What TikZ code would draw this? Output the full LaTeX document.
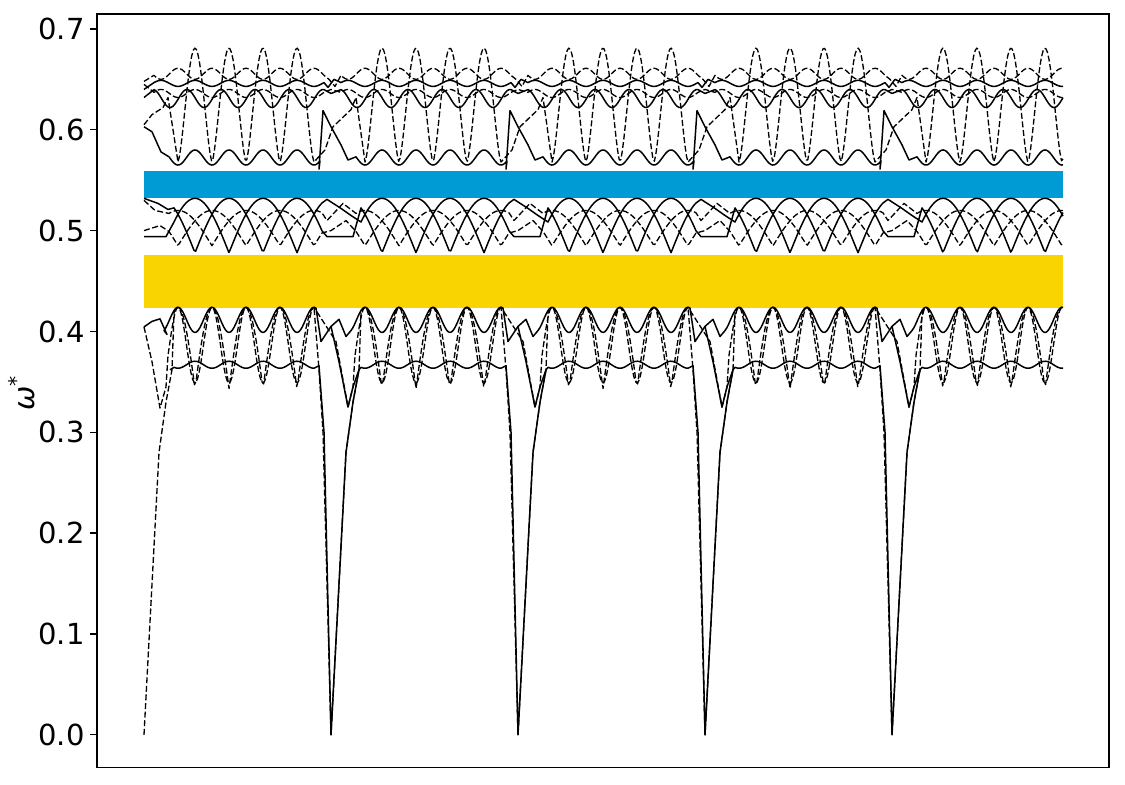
\documentclass[tikz,border=0pt]{standalone}
\usepackage{fontspec}
\setmainfont{DejaVu Sans}
\usepackage{tikz}

\definecolor{gapblue}{RGB}{0,155,212}
\definecolor{gapyellow}{RGB}{249,212,0}

% one branch over the five cells: style, start, u from, u to, link to next cell, omega(u)
\newcommand{\branch}[6]{%
  \def\xo{892}\def\xe{1063}%
  \draw[#1] #2 \foreach \j [evaluate=\j as \xo using {144+187*\j},
                             evaluate=\j as \xe using {144+187*\j+#4},
                             evaluate=\j as \xn using {331+187*\j}] in {0,1,2,3}
    { -- plot[domain=\xo+#3:\xe] (\t,{#6}) -- #5 }
    -- plot[domain=\xo+#3:\xe] (\t,{#6});
}

\begin{document}
\begin{tikzpicture}[
  x=0.02cm, y=20.172cm,
  variable=\t, samples=90,
  solidline/.style={line width=0.85pt, line join=round},
  dashline/.style={line width=0.75pt, dash pattern=on 3.4pt off 1.5pt, line join=round},
  axisline/.style={line width=0.75pt},
  ticklabel/.style={anchor=east, inner sep=0pt, font=\fontsize{16.5}{20}\selectfont}
]
  \useasboundingbox (0,-0.0496) rectangle (1125,0.7287);

  % band gaps
  \fill[gapblue] (144,0.5324) rectangle (1063,0.5592);
  \fill[gapyellow] (144,0.4234) rectangle (1063,0.4759);

  % upper group
  \branch{dashline}{(144,0.605) -- (152,0.615) -- (163,0.622) -- (168,0.632)}{34}{170}
    {(\xn-6,0.58) -- (\xn+2,0.603) -- (\xn+20,0.620) -- (\xn+25,0.632)}
    {0.568+0.113*abs(cos(5.2941*(\t-\xo-51)))*sqrt(abs(cos(5.2941*(\t-\xo-51))))}
  \branch{solidline}{(144,0.603) -- (152,0.598) -- (161,0.578)}{25}{176}
    {(\xn-12,0.561) -- (\xn-8,0.619) -- (\xn,0.603) -- (\xn+10,0.585) -- (\xn+17,0.570)}
    {0.5725-0.0075*cos(10.5882*(\t-\xo-34))}
  \branch{dashline}{(144,0.648)}{10}{180}{(\xn-2,0.650) -- (\xn+4,0.643)}
    {0.6555+0.0055*cos(10.5882*(\t-\xo-34))}
  \branch{solidline}{(144,0.640)}{10}{180}{(\xn-3,0.642) -- (\xn+3,0.650)}
    {0.646+0.003*cos(10.5882*(\t-\xo-17))}
  \branch{dashline}{(144,0.645)}{10}{180}{(\xn,0.640)}
    {0.636+0.004*cos(10.5882*(\t-\xo-17))}
  \branch{solidline}{(144,0.632)}{10}{180}{(\xn,0.636)}
    {0.631+0.009*cos(10.5882*(\t-\xo-9))}

  % middle group
  \branch{solidline}{(144,0.494) -- (166,0.494)}{30}{178}
    {(\xn-4,0.531) -- (\xn+10,0.522) -- (\xn+20,0.515)}
    {0.478+0.054*abs(cos(2.6471*(\t-\xo-51)))}
  \branch{solidline}{(144,0.532) -- (158,0.527) -- (168,0.521)}{30}{178}
    {(\xn-4,0.494) -- (\xn+22,0.494)}
    {0.478+0.054*abs(sin(2.6471*(\t-\xo-51)))}
  \branch{dashline}{(144,0.530) -- (155,0.520)}{25}{178}
    {(\xn-4,0.510) -- (\xn+12,0.527)}
    {0.485+0.035*abs(cos(2.6471*(\t-\xo-34)))}
  \branch{dashline}{(144,0.500) -- (160,0.505)}{25}{178}
    {(\xn,0.500) -- (\xn+15,0.510)}
    {0.485+0.035*abs(sin(2.6471*(\t-\xo-34)))}

  % lower group
  \branch{solidline}{(144,0.4045) -- (152,0.410) -- (160,0.4125) -- (167,0.397)}{20}{172}
    {(\xn-10,0.390) -- (\xn,0.405) -- (\xn+8,0.412) -- (\xn+15,0.395)}
    {0.4115+0.0125*cos(10.5882*(\t-\xo-34))}
  \branch{dashline}{(144,0) -- (159,0.28) -- (166,0.33) -- (172,0.362)}{30}{170}
    {(\xn-12,0.362) -- (\xn-8,0.30) -- (\xn,0) -- (\xn+15,0.28) -- (\xn+22,0.33) -- (\xn+28,0.362)}
    {0.343+0.081*abs(cos(5.2941*(\t-\xo-34)))}
  \branch{dashline}{(144,0.4045) -- (152,0.37) -- (160,0.324) -- (166,0.345)}{24}{170}
    {(\xn+5,0.39) -- (\xn+17,0.325) -- (\xn+22,0.345)}
    {0.349+0.0375*(1+cos(10.5882*(\t-\xo-34)))}
  \branch{solidline}{(170,0.362)}{30}{170}
    {(\xn-12,0.366) -- (\xn-7,0.30) -- (\xn,0) -- (\xn+15,0.28) -- (\xn+22,0.33) -- (\xn+28,0.362)}
    {0.367+0.0035*cos(10.5882*(\t-\xo-17))}
  \foreach \j [evaluate=\j as \xo using {144+187*\j}] in {1,...,4}
    \draw[solidline] (\xo,0.405) -- (\xo+8,0.37) -- (\xo+17,0.325) -- (\xo+22,0.345) -- (\xo+28,0.362);

  % axes
  \draw[axisline] (97,-0.0327) rectangle (1109,0.7149);
  \foreach \v [count=\i from 0] in {0.0,0.1,0.2,0.3,0.4,0.5,0.6,0.7} {
    \draw[axisline] (97,\v) -- (90,\v);
    \node[ticklabel] (ytick\i) at (85,\v) {\v};
  }
  \node[rotate=90, font=\fontsize{16.5}{20}\selectfont] (ylabel) at (22,0.339) {\textit{ω}\textsuperscript{*}};
\end{tikzpicture}
\end{document}
